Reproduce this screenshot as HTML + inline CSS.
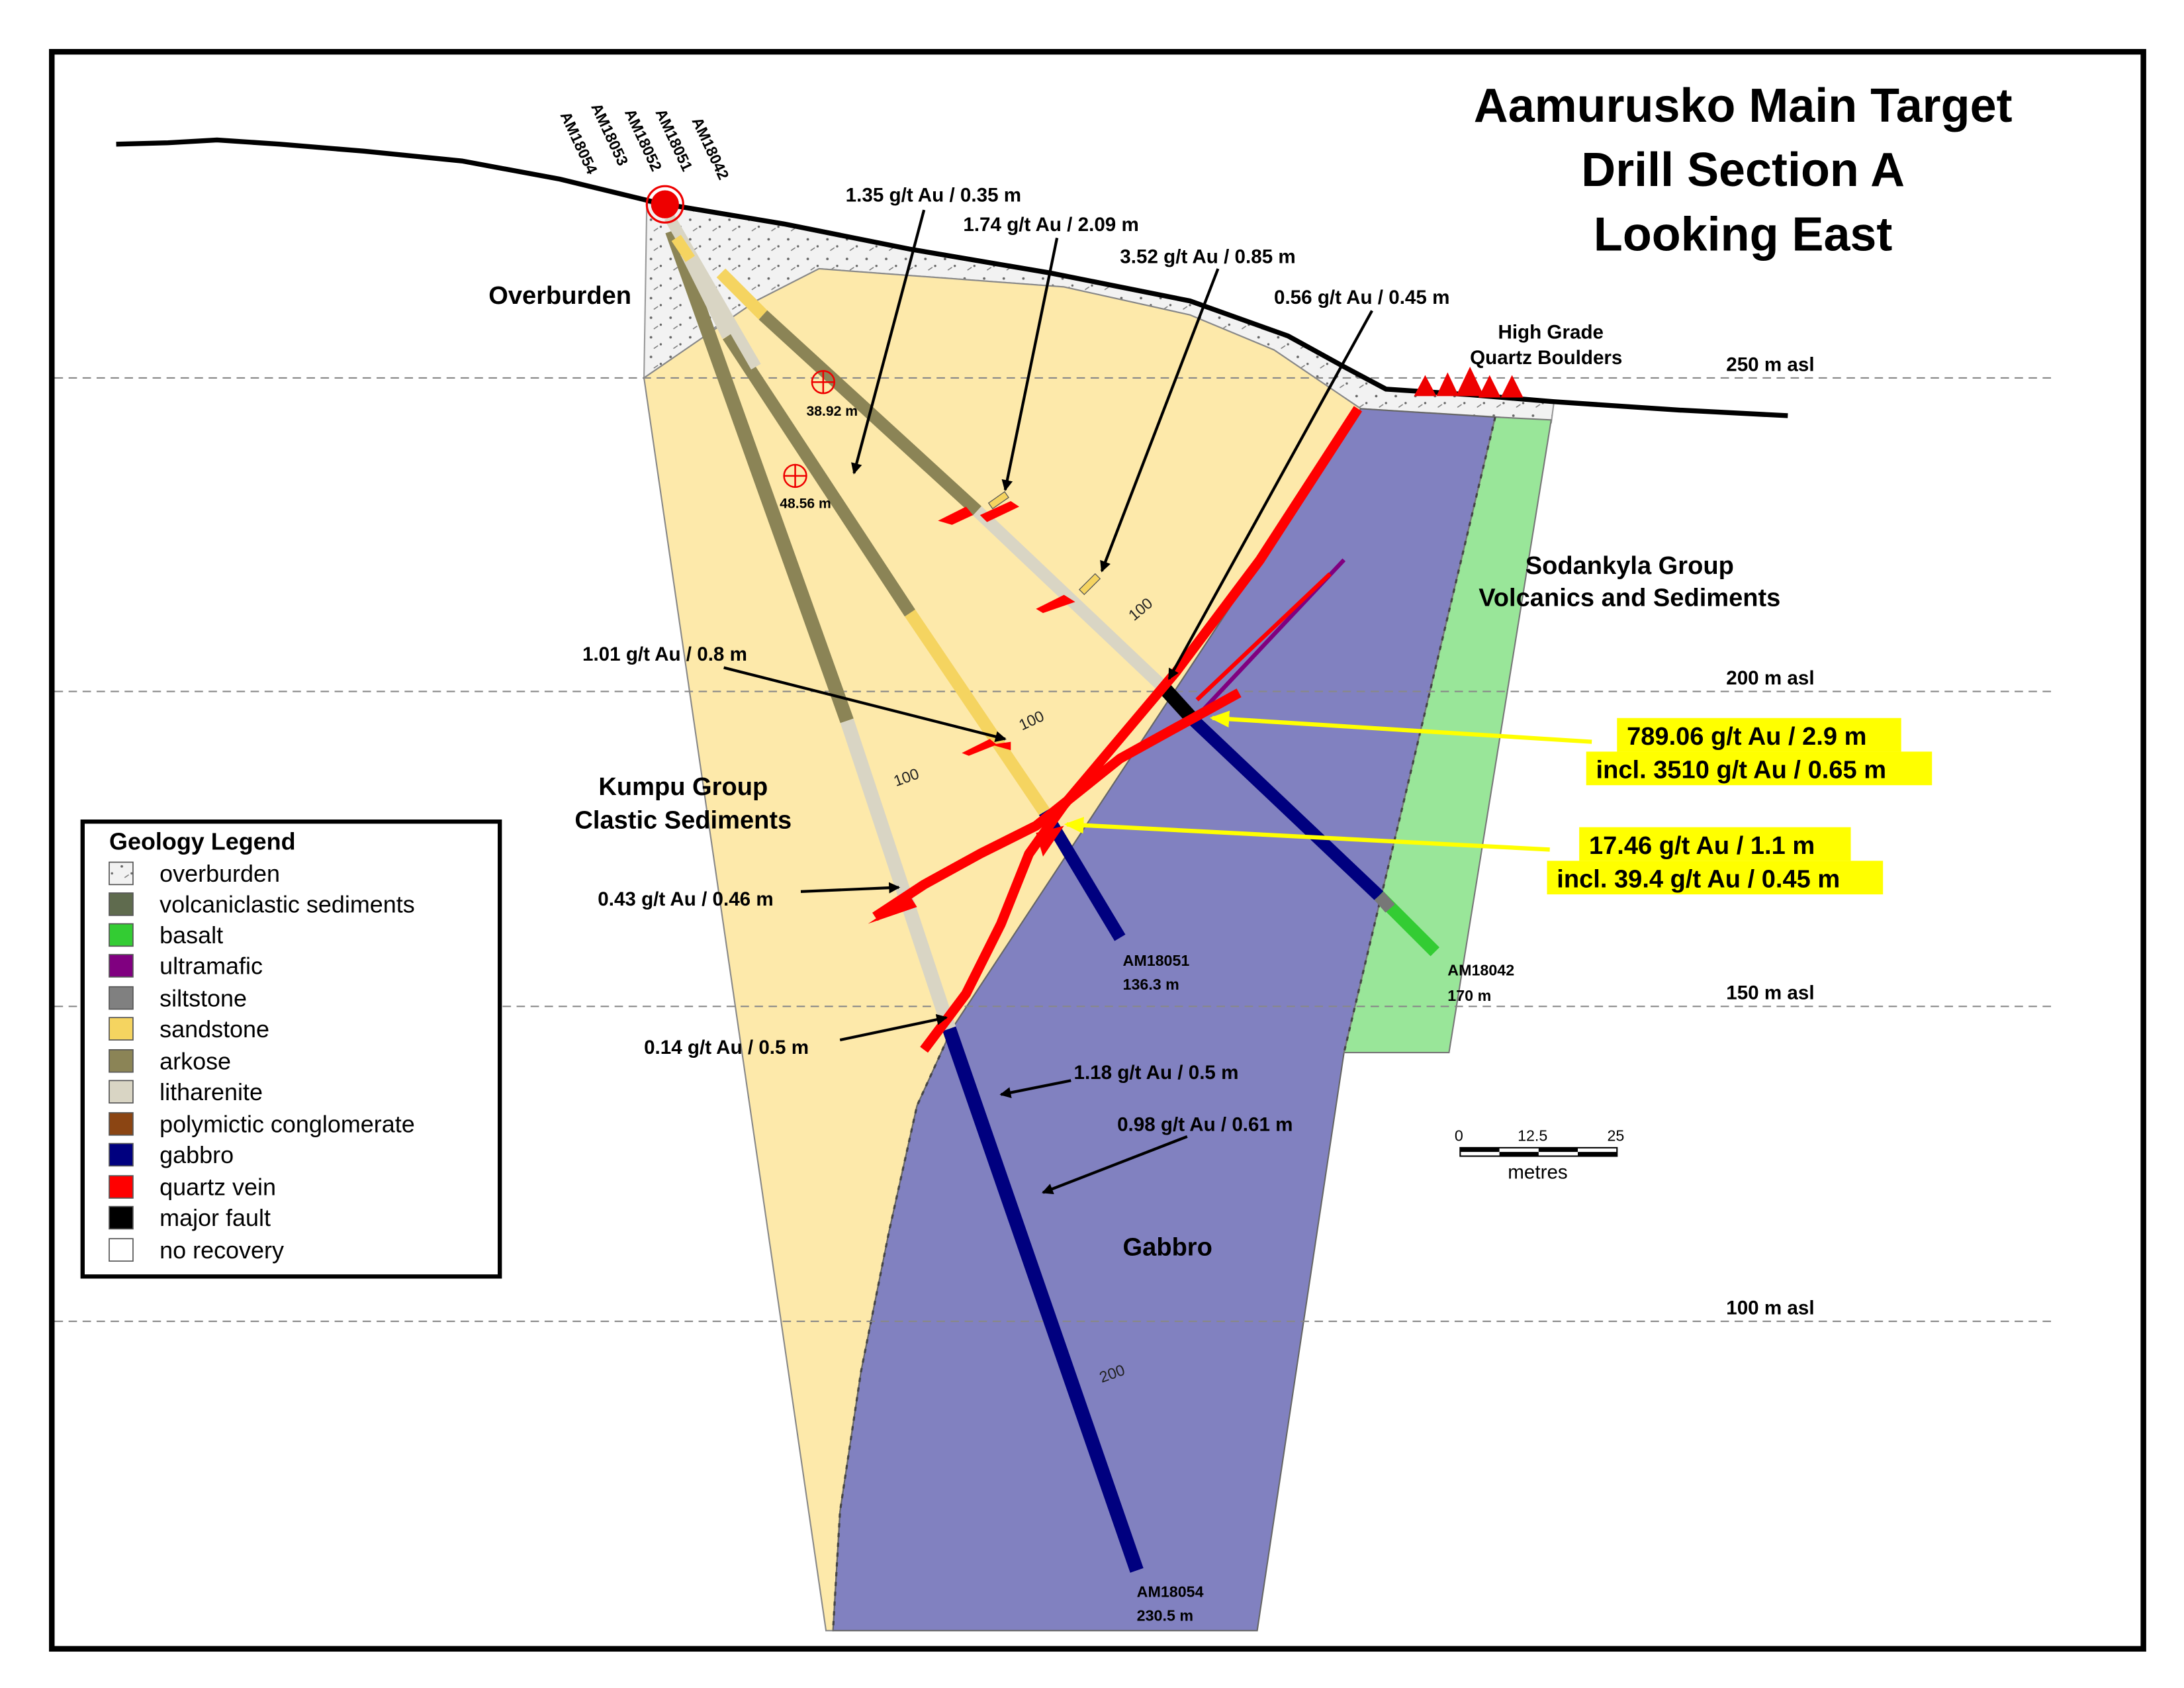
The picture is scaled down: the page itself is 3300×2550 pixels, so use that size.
<!DOCTYPE html>
<html><head><meta charset="utf-8"><style>
html,body{margin:0;padding:0;background:#fff}
svg{display:block}
text{font-family:"Liberation Sans",Arial,sans-serif}
</style></head><body>
<svg xmlns="http://www.w3.org/2000/svg" width="3300" height="2550" viewBox="0 0 1560 1206" preserveAspectRatio="none">
<defs>
<pattern id="ob" width="14" height="14" patternUnits="userSpaceOnUse">
<rect width="14" height="14" fill="#f2f2f2"/>
<circle cx="3" cy="3" r="0.9" fill="#666"/><circle cx="10" cy="8" r="0.8" fill="#666"/><path d="M5 11 l3 -2" stroke="#777" stroke-width="0.7"/>
</pattern>
<marker id="ah" markerWidth="8" markerHeight="8" refX="7" refY="4" orient="auto" markerUnits="userSpaceOnUse"><path d="M0 0 L8 4 L0 8 Z" fill="#000"/></marker>
<marker id="ay" markerWidth="14" markerHeight="12" refX="12" refY="6" orient="auto" markerUnits="userSpaceOnUse"><path d="M0 0 L14 6 L0 12 Z" fill="#ffff00"/></marker>
</defs>
<rect x="0" y="0" width="1560" height="1206" fill="#fff"/>
<rect x="37" y="37" width="1494" height="1141" fill="none" stroke="#000" stroke-width="4"/>

<polygon points="462,145 560,160 650,178 750,195 850,215 920,240 960,262 990,278 1050,282 1110,287 1108,302 1070,298 972,292 910,250 850,225 760,205 585,192 540,215 460,270" fill="url(#ob)" stroke="#999" stroke-width="1"/>
<polygon points="460,270 540,215 585,192 760,205 850,225 910,250 972,292 680,735 655,790 635,880 615,980 600,1080 595,1165 590,1165" fill="#fde9aa" stroke="#888" stroke-width="1"/>
<polygon points="972,292 1068,298 960,752 898,1165 595,1165 600,1080 615,980 635,880 655,790 680,735" fill="#8181c0" stroke="#666" stroke-width="1"/>
<polygon points="1068,298 1108,300 1035,752 960,752" fill="#99e699" stroke="#777" stroke-width="1"/>
<path d="M680,735 L655,790 L635,880 L615,980 L600,1080 L595,1165" fill="none" stroke="#444" stroke-width="1.5" stroke-dasharray="3,4"/>
<path d="M1068,298 L960,752" fill="none" stroke="#444" stroke-width="1.5" stroke-dasharray="3,4"/>

<g stroke="#888" stroke-width="1" stroke-dasharray="6,4">
<line x1="39" y1="270" x2="1465" y2="270"/><line x1="39" y1="494" x2="1465" y2="494"/>
<line x1="39" y1="719" x2="1465" y2="719"/><line x1="39" y1="944" x2="1465" y2="944"/>
</g>
<g font-size="14" font-weight="bold">
<text x="1233" y="265">250 m asl</text><text x="1233" y="489">200 m asl</text>
<text x="1233" y="714">150 m asl</text><text x="1233" y="939">100 m asl</text>
</g>

<polyline points="83,103 120,102 155,100 200,103 260,108 330,115 400,128 470,145 560,160 650,178 750,195 850,215 920,240 960,262 990,278 1050,282 1110,287 1200,293 1277,297" fill="none" stroke="#000" stroke-width="3.5"/>
<g fill="#e00">
<polygon points="1010,283 1018,268 1026,283"/><polygon points="1026,283 1034,266 1042,283"/><polygon points="1040,283 1050,262 1060,283"/><polygon points="1056,284 1064,268 1072,284"/><polygon points="1072,284 1080,268 1088,284"/>
</g>

<g stroke-linecap="butt">
<line x1="480" y1="165" x2="605" y2="515" stroke="#8b8456" stroke-width="10"/>
<line x1="605" y1="515" x2="678" y2="735" stroke="#d9d5c4" stroke-width="10"/>
<line x1="678" y1="735" x2="812" y2="1122" stroke="#00007f" stroke-width="10"/>
<line x1="490" y1="180" x2="520" y2="240" stroke="#d9d5c4" stroke-width="9"/>
<line x1="520" y1="240" x2="650" y2="438" stroke="#8b8456" stroke-width="9"/>
<line x1="650" y1="438" x2="746" y2="580" stroke="#f5d460" stroke-width="9"/>
<line x1="746" y1="580" x2="800" y2="670" stroke="#00007f" stroke-width="9"/>
<line x1="478" y1="155" x2="540" y2="262" stroke="#d9d5c4" stroke-width="8"/>
<line x1="483" y1="170" x2="493" y2="185" stroke="#f5d460" stroke-width="8"/>
<line x1="515" y1="195" x2="545" y2="225" stroke="#f5d460" stroke-width="9"/>
<line x1="545" y1="225" x2="698" y2="365" stroke="#8b8456" stroke-width="9"/>
<line x1="698" y1="365" x2="832" y2="492" stroke="#d9d5c4" stroke-width="9"/>
<line x1="832" y1="492" x2="852" y2="514" stroke="#000" stroke-width="10"/>
<line x1="852" y1="514" x2="985" y2="640" stroke="#00007f" stroke-width="9"/>
<line x1="985" y1="640" x2="1025" y2="680" stroke="#33cc33" stroke-width="9"/>
<line x1="985" y1="640" x2="993" y2="649" stroke="#777" stroke-width="9"/>
</g>
<line x1="960" y1="400" x2="852" y2="515" stroke="#800080" stroke-width="3"/>
<g fill="none" stroke="#ff0000" stroke-linejoin="round">
<polyline points="970,292 900,400 840,480 760,575 735,610 715,660 690,710 660,750" stroke-width="7"/>
<polyline points="885,495 800,542 740,590 700,610 660,632 625,655" stroke-width="7"/>
<line x1="950" y1="410" x2="855" y2="500" stroke-width="3"/>
</g>
<g fill="#ff0000">
<polygon points="740,595 760,590 745,612"/>
<polygon points="620,660 650,640 655,648"/>
<polygon points="670,372 690,362 695,368 680,375"/><polygon points="700,368 722,358 728,362 705,373"/>
<polygon points="740,435 760,425 768,430 745,438"/><polygon points="687,538 707,528 712,532 692,540"/>
<polygon points="708,532 722,530 722,536"/>
</g>
<circle cx="475" cy="146" r="10" fill="#e00"/>
<circle cx="475" cy="146" r="13" fill="none" stroke="#e00" stroke-width="1.5"/>
<g fill="#f5d460" stroke="#555" stroke-width="0.6">
<rect x="706" y="355" width="14" height="5" transform="rotate(-35 713 357)"/>
<rect x="770" y="415" width="16" height="5" transform="rotate(-45 778 417)"/>
</g>
<g fill="none" stroke="#e00" stroke-width="1.2">
<circle cx="588" cy="273" r="8"/><line x1="580" y1="273" x2="596" y2="273"/><line x1="588" y1="265" x2="588" y2="281"/>
<circle cx="568" cy="340" r="8"/><line x1="560" y1="340" x2="576" y2="340"/><line x1="568" y1="332" x2="568" y2="348"/>
</g>
<g font-size="10" font-weight="bold"><text x="576" y="297">38.92 m</text><text x="557" y="363">48.56 m</text></g>
<g font-size="11" fill="#222">
<text x="810" y="444" transform="rotate(-40 810 444)">100</text>
<text x="730" y="522" transform="rotate(-25 730 522)">100</text>
<text x="640" y="562" transform="rotate(-20 640 562)">100</text>
<text x="787" y="988" transform="rotate(-20 787 988)">200</text>
</g>

<g font-size="11" font-weight="bold">
<text x="400" y="82" transform="rotate(65 400 82)">AM18054</text>
<text x="422" y="76" transform="rotate(65 422 76)">AM18053</text>
<text x="446" y="80" transform="rotate(65 446 80)">AM18052</text>
<text x="468" y="80" transform="rotate(65 468 80)">AM18051</text>
<text x="494" y="86" transform="rotate(65 494 86)">AM18042</text>
<text x="802" y="690">AM18051</text><text x="802" y="707">136.3 m</text>
<text x="1034" y="697">AM18042</text><text x="1034" y="715">170 m</text>
<text x="812" y="1141">AM18054</text><text x="812" y="1158">230.5 m</text>
</g>

<g stroke="#000" stroke-width="2" marker-end="url(#ah)" fill="none">
<line x1="660" y1="150" x2="610" y2="338"/>
<line x1="755" y1="170" x2="718" y2="350"/>
<line x1="870" y1="192" x2="787" y2="408"/>
<line x1="980" y1="222" x2="835" y2="485"/>
<line x1="517" y1="477" x2="718" y2="528"/>
<line x1="572" y1="637" x2="642" y2="634"/>
<line x1="600" y1="743" x2="676" y2="727"/>
<line x1="765" y1="772" x2="715" y2="782"/>
<line x1="848" y1="812" x2="745" y2="852"/>
</g>
<g stroke="#ffff00" stroke-width="3" marker-end="url(#ay)" fill="none">
<line x1="1137" y1="530" x2="866" y2="513"/>
<line x1="1107" y1="607" x2="762" y2="589"/>
</g>

<g font-size="14" font-weight="bold">
<text x="604" y="144">1.35 g/t Au / 0.35 m</text>
<text x="688" y="165">1.74 g/t Au / 2.09 m</text>
<text x="800" y="188">3.52 g/t Au / 0.85 m</text>
<text x="910" y="217">0.56 g/t Au / 0.45 m</text>
<text x="416" y="472">1.01 g/t Au / 0.8 m</text>
<text x="427" y="647">0.43 g/t Au / 0.46 m</text>
<text x="460" y="753">0.14 g/t Au / 0.5 m</text>
<text x="767" y="771">1.18 g/t Au / 0.5 m</text>
<text x="798" y="808">0.98 g/t Au / 0.61 m</text>
<text x="1070" y="242">High Grade</text>
<text x="1050" y="260">Quartz Boulders</text>
</g>
<rect x="1155" y="513" width="203" height="24" fill="#ffff00"/>
<rect x="1133" y="537" width="247" height="24" fill="#ffff00"/>
<rect x="1128" y="591" width="194" height="24" fill="#ffff00"/>
<rect x="1105" y="615" width="240" height="24" fill="#ffff00"/>
<g font-size="18" font-weight="bold">
<text x="1162" y="532">789.06 g/t Au / 2.9 m</text>
<text x="1140" y="556">incl. 3510 g/t Au / 0.65 m</text>
<text x="1135" y="610">17.46 g/t Au / 1.1 m</text>
<text x="1112" y="634">incl. 39.4 g/t Au / 0.45 m</text>
</g>
<g font-size="18" font-weight="bold" text-anchor="middle">
<text x="400" y="217">Overburden</text>
<text x="488" y="568">Kumpu Group</text>
<text x="488" y="592">Clastic Sediments</text>
<text x="1164" y="410">Sodankyla Group</text>
<text x="1164" y="433">Volcanics and Sediments</text>
<text x="834" y="897">Gabbro</text>
</g>
<g font-size="34" font-weight="bold" text-anchor="middle">
<text x="1245" y="87">Aamurusko Main Target</text>
<text x="1245" y="133">Drill Section A</text>
<text x="1245" y="179">Looking East</text>
</g>

<g font-size="11">
<text x="1039" y="815">0</text><text x="1084" y="815">12.5</text><text x="1148" y="815">25</text>
<rect x="1043" y="820" width="112" height="6" fill="#fff" stroke="#000" stroke-width="1"/>
<rect x="1043" y="820" width="28" height="3" fill="#000"/><rect x="1071" y="823" width="28" height="3" fill="#000"/>
<rect x="1099" y="820" width="28" height="3" fill="#000"/><rect x="1127" y="823" width="28" height="3" fill="#000"/>
<text x="1077" y="842" font-size="14">metres</text>
</g>

<rect x="59" y="587" width="298" height="325" fill="#fff" stroke="#000" stroke-width="3"/>
<text x="78" y="607" font-size="17" font-weight="bold">Geology Legend</text>
<g stroke="#555" stroke-width="0.8">
<rect x="78" y="616" width="17" height="16" fill="url(#ob)"/>
<rect x="78" y="638" width="17" height="16" fill="#5f6b4e"/>
<rect x="78" y="660" width="17" height="16" fill="#33cc33"/>
<rect x="78" y="682" width="17" height="16" fill="#800080"/>
<rect x="78" y="705" width="17" height="16" fill="#808080"/>
<rect x="78" y="727" width="17" height="16" fill="#f5d460"/>
<rect x="78" y="750" width="17" height="16" fill="#8b8456"/>
<rect x="78" y="772" width="17" height="16" fill="#d9d5c4"/>
<rect x="78" y="795" width="17" height="16" fill="#8b4513"/>
<rect x="78" y="817" width="17" height="16" fill="#00007f"/>
<rect x="78" y="840" width="17" height="16" fill="#ff0000"/>
<rect x="78" y="862" width="17" height="16" fill="#000"/>
<rect x="78" y="885" width="17" height="16" fill="#fff"/>
</g>
<g font-size="17">
<text x="114" y="630">overburden</text>
<text x="114" y="652">volcaniclastic sediments</text>
<text x="114" y="674">basalt</text>
<text x="114" y="696">ultramafic</text>
<text x="114" y="719">siltstone</text>
<text x="114" y="741">sandstone</text>
<text x="114" y="764">arkose</text>
<text x="114" y="786">litharenite</text>
<text x="114" y="809">polymictic conglomerate</text>
<text x="114" y="831">gabbro</text>
<text x="114" y="854">quartz vein</text>
<text x="114" y="876">major fault</text>
<text x="114" y="899">no recovery</text>
</g>
</svg>
</body></html>
